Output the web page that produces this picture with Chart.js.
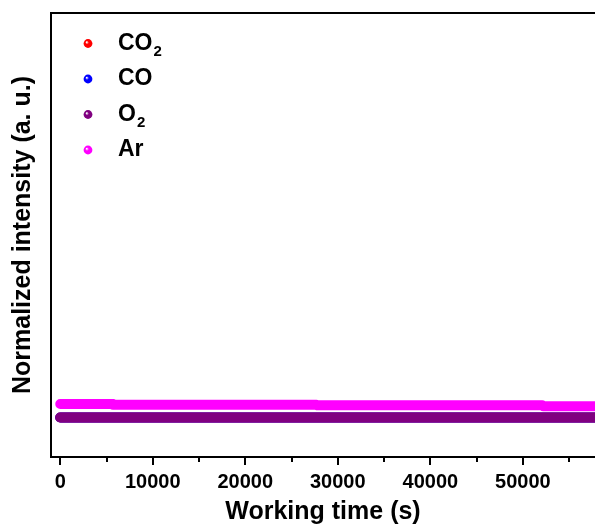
<!DOCTYPE html>
<html>
<head>
<meta charset="utf-8">
<script src="https://cdn.jsdelivr.net/npm/chart.js@4"></script>
<style>
  html, body { margin: 0; padding: 0; background: #fff; overflow: hidden; }
  canvas { display: block; }
</style>
</head>
<body>
<canvas id="chart" width="595" height="529"></canvas>
<script>
// Gas signals recorded over the working time (normalized intensity)
const seriesNames = ['CO2', 'CO', 'O2', 'Ar'];

const timeCO2 = [0, 57800];
const valuesCO2 = [0.089, 0.089];

const timeCO = [0, 57800];
const valuesCO = [0.089, 0.089];

const timeO2 = [0, 57800];
const valuesO2 = [0.089, 0.089];

const timeAr = [0, 5600, 5700, 27700, 27800, 52100, 52200, 57800];
const valuesAr = [0.1194, 0.1194, 0.1175, 0.1175, 0.1163, 0.1163, 0.1145, 0.1145];

const xMajorTicks = [0, 10000, 20000, 30000, 40000, 50000];
const xMinorTicks = [5000, 15000, 25000, 35000, 45000, 55000];

const seriesColors = ['#ff0000', '#0000ff', '#800080', '#ff00ff'];

const FONT = "'Liberation Sans', Arial, Helvetica, sans-serif";
Chart.defaults.font.family = FONT;
Chart.defaults.color = '#000';

function toPoints(xs, ys) {
  return xs.map((x, i) => ({ x: x, y: ys[i] }));
}

const seriesData = [
  toPoints(timeCO2, valuesCO2),
  toPoints(timeCO, valuesCO),
  toPoints(timeO2, valuesO2),
  toPoints(timeAr, valuesAr)
];

const datasets = seriesNames.map((name, i) => ({
  label: name,
  data: seriesData[i],
  borderColor: seriesColors[i],
  backgroundColor: seriesColors[i],
  borderWidth: 10,
  borderCapStyle: 'round',
  borderJoinStyle: 'round',
  pointRadius: 0,
  tension: 0,
  order: seriesNames.length - i
}));

// Tick marks (major + minor) on the time axis and the top frame line
const frameAndTicks = {
  id: 'frameAndTicks',
  afterDraw(chart) {
    const { ctx, chartArea } = chart;
    const xs = chart.scales.x;
    ctx.save();
    ctx.strokeStyle = '#000';
    ctx.lineWidth = 2;
    ctx.beginPath();
    ctx.moveTo(chartArea.left - 1, chartArea.top);
    ctx.lineTo(chartArea.right, chartArea.top);
    ctx.stroke();
    const mark = (v, len) => {
      const px = Math.round(xs.getPixelForValue(v));
      ctx.beginPath();
      ctx.moveTo(px, chartArea.bottom);
      ctx.lineTo(px, chartArea.bottom + len);
      ctx.stroke();
    };
    xMajorTicks.forEach(v => mark(v, 8));
    xMinorTicks.forEach(v => mark(v, 5));
    ctx.restore();
  }
};

// Legend with shaded ball markers and subscripted digits
const ballLegend = {
  id: 'ballLegend',
  afterDraw(chart) {
    const { ctx } = chart;
    const dotX = 88, textX = 118, y0 = 43.5, step = 35.5;
    ctx.save();
    chart.data.datasets.forEach((ds, i) => {
      const y = y0 + i * step;
      const g = ctx.createRadialGradient(dotX - 1.4, y - 1.4, 0.3, dotX, y, 4.6);
      g.addColorStop(0, '#ffffff');
      g.addColorStop(0.35, ds.borderColor);
      g.addColorStop(1, ds.borderColor);
      ctx.fillStyle = g;
      ctx.beginPath();
      ctx.arc(dotX, y, 4.4, 0, Math.PI * 2);
      ctx.fill();

      ctx.fillStyle = '#000';
      ctx.textBaseline = 'middle';
      ctx.textAlign = 'left';
      let x = textX;
      const parts = ds.label.match(/[A-Za-z]+|\d+/g);
      parts.forEach(p => {
        if (/^\d+$/.test(p)) {
          ctx.font = 'bold 15px ' + FONT;
          ctx.fillText(p, x + 1, y + 8);
          x += ctx.measureText(p).width + 1;
        } else {
          ctx.font = 'bold 23px ' + FONT;
          ctx.fillText(p, x, y);
          x += ctx.measureText(p).width;
        }
      });
    });
    ctx.restore();
  }
};

new Chart(document.getElementById('chart'), {
  type: 'line',
  data: { datasets: datasets },
  options: {
    responsive: false,
    animation: false,
    devicePixelRatio: 1,
    layout: { padding: { top: 13, right: 0, bottom: 0, left: 0 } },
    plugins: {
      legend: { display: false },
      tooltip: { enabled: false }
    },
    scales: {
      x: {
        type: 'linear',
        min: -1000,
        max: 57800,
        border: { display: true, color: '#000', width: 2 },
        grid: { display: false, drawTicks: false },
        ticks: {
          font: { size: 20, weight: 'bold' },
          color: '#000',
          padding: 13,
          maxRotation: 0,
          autoSkip: false,
          callback: v => String(v)
        },
        afterBuildTicks(scale) {
          scale.ticks = xMajorTicks.map(v => ({ value: v }));
        },
        afterFit(scale) { scale.height = 72; },
        title: {
          display: true,
          text: 'Working time (s)',
          font: { size: 25, weight: 'bold' },
          color: '#000',
          padding: { top: 0, bottom: 2 }
        }
      },
      y: {
        type: 'linear',
        min: 0,
        max: 1,
        border: { display: true, color: '#000', width: 2 },
        grid: { display: false, drawTicks: false },
        ticks: { display: false },
        afterFit(scale) { scale.width = 51; },
        title: {
          display: true,
          text: 'Normalized intensity (a. u.)',
          font: { size: 25, weight: 'bold' },
          color: '#000',
          padding: { top: 8, bottom: 0 }
        }
      }
    }
  },
  plugins: [frameAndTicks, ballLegend]
});
</script>
</body>
</html>
